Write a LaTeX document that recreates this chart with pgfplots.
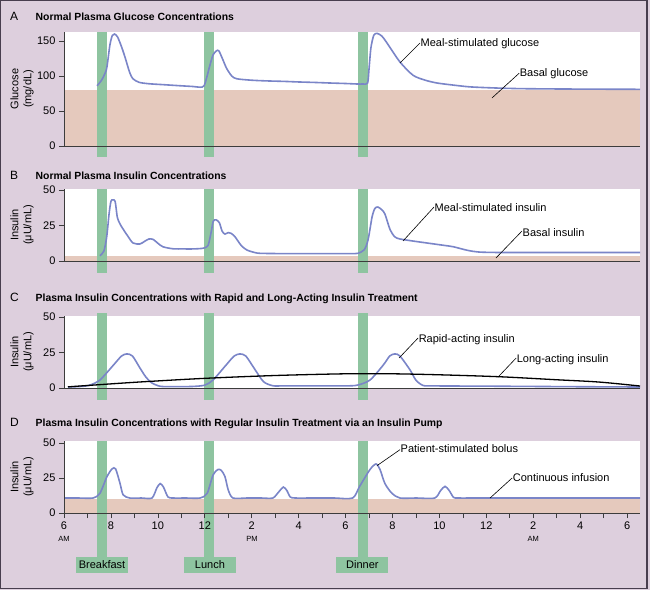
\documentclass[border=0pt]{standalone}
\usepackage{pgfplots}
\pgfplotsset{compat=1.18}
\usepackage{fontspec}
\setmainfont{Liberation Sans}

\definecolor{lilac}{RGB}{221,207,221}
\definecolor{peach}{RGB}{229,201,189}
\definecolor{mealgreen}{RGB}{142,196,160}
\definecolor{curveblue}{RGB}{122,133,200}
\definecolor{axgray}{RGB}{60,60,60}
\definecolor{framegray}{RGB}{72,62,78}

\newcommand{\ttl}{\fontsize{10.4}{12}\selectfont\bfseries}
\newcommand{\lbl}{\fontsize{11}{13}\selectfont}

\tikzset{
  leader/.style={black, line width=0.6pt},
  note/.style={anchor=west, inner sep=0.5pt, font=\lbl},
  mealbox/.style={fill=mealgreen, minimum width=52pt, minimum height=16pt, inner sep=0, font=\lbl},
}

\pgfplotsset{
  panel/.style={
    scale only axis, width=576pt, height=72pt,
    anchor=south west,
    xmin=0, xmax=24.55, ymin=0,
    axis x line=bottom, axis y line=left,
    axis line style={-, draw=axgray, line width=0.8pt},
    axis on top, clip=false,
    axis background/.style={fill=white},
    xtick=\empty,
    tick align=outside, major tick length=5pt, minor tick length=5pt,
    tick style={draw=axgray, line width=0.7pt},
    ticklabel style={font=\lbl},
    /pgf/number format/assume math mode=true,
    ylabel style={at={(axis description cs:-0.073,0.5)}, anchor=center,
      align=center, font=\fontsize{11}{13}\selectfont},
  },
  meal/.style={fill=mealgreen, draw=none},
  band/.style={fill=peach, draw=none},
  curve/.style={curveblue, line width=1.6pt, smooth, tension=0.45},
}

\begin{document}
\begin{tikzpicture}
\useasboundingbox (0pt,0pt) rectangle (650pt,590pt);
\fill[lilac] (0pt,0pt) rectangle (650pt,590pt);
\draw[framegray, line width=1.2pt] (0.6pt,1.6pt) rectangle (647pt,589.4pt);

% panel titles
\node[anchor=base west, inner sep=0, font=\fontsize{12}{14}\selectfont] at (10pt,569.3pt) {A};
\node[anchor=base west, inner sep=0, font=\ttl] at (35.5pt,569.3pt) {Normal Plasma Glucose Concentrations};
\node[anchor=base west, inner sep=0, font=\fontsize{12}{14}\selectfont] at (10pt,410pt) {B};
\node[anchor=base west, inner sep=0, font=\ttl] at (35.5pt,410pt) {Normal Plasma Insulin Concentrations};
\node[anchor=base west, inner sep=0, font=\fontsize{12}{14}\selectfont] at (10pt,288.5pt) {C};
\node[anchor=base west, inner sep=0, font=\ttl] at (35.5pt,288.5pt) {Plasma Insulin Concentrations with Rapid and Long-Acting Insulin Treatment};
\node[anchor=base west, inner sep=0, font=\fontsize{12}{14}\selectfont] at (10pt,164pt) {D};
\node[anchor=base west, inner sep=0, font=\ttl] at (35.5pt,164pt) {Plasma Insulin Concentrations with Regular Insulin Treatment via an Insulin Pump};

% ---------- A: glucose
\begin{axis}[panel, at={(64pt,444pt)}, height=114pt, ymax=162.9,
  ytick={0,50,100,150}, ylabel={Glucose\\(mg/dL)}]
\addplot[band] coordinates {(0.03,0) (24.55,0) (24.55,80) (0.03,80)} --cycle;
\addplot[meal] coordinates {(1.41,-15.7) (1.83,-15.7) (1.83,162.9) (1.41,162.9)} --cycle;
\addplot[meal] coordinates {(5.97,-15.7) (6.39,-15.7) (6.39,162.9) (5.97,162.9)} --cycle;
\addplot[meal] coordinates {(12.53,-15.7) (12.96,-15.7) (12.96,162.9) (12.53,162.9)} --cycle;
\addplot[curve] coordinates {
  (1.41,86) (1.6,94) (1.75,104) (1.83,113) (1.96,145) (2.06,158) (2.15,160)
  (2.28,156) (2.45,142) (2.6,127) (2.8,105) (2.94,96) (3.2,91) (3.6,89)
  (4.3,87.5) (5.0,86) (5.5,85) (5.8,84) (5.97,86) (6.1,100) (6.2,113)
  (6.35,130) (6.5,136) (6.6,136) (6.75,125) (6.93,111) (7.15,100) (7.37,96)
  (8,94) (8.65,93) (9.4,92.3) (10,91.5) (10.7,90.8) (11.34,90) (12.0,89.3)
  (12.49,88.6) (12.75,88.6) (12.94,90) (13.0,110) (13.08,140)
  (13.2,158) (13.34,161) (13.55,157) (13.77,147) (14.32,120) (14.88,101)
  (15.4,94) (15.9,90) (16.6,87) (17.3,84.5) (18.3,83) (19.4,82) (21,81.5)
  (22.8,81.2) (24.55,81)};
\draw[leader] (axis cs:15.17,147) -- (axis cs:14.32,118.6);
\node[note] at (axis cs:15.17,146) {Meal-stimulated glucose};
\draw[leader] (axis cs:19.4,104) -- (axis cs:18.24,68.6);
\node[note] at (axis cs:19.4,103) {Basal glucose};
\end{axis}

% ---------- B: normal insulin
\begin{axis}[panel, at={(64pt,329pt)}, ymax=50.7,
  ytick={0,25,50}, ylabel={Insulin\\(μU/mL)}]
\addplot[band] coordinates {(0.03,0) (24.55,0) (24.55,3.5) (0.03,3.5)} --cycle;
\addplot[meal] coordinates {(1.41,-8.5) (1.83,-8.5) (1.83,50.7) (1.41,50.7)} --cycle;
\addplot[meal] coordinates {(5.97,-8.5) (6.39,-8.5) (6.39,50.7) (5.97,50.7)} --cycle;
\addplot[meal] coordinates {(12.53,-8.5) (12.96,-8.5) (12.96,50.7) (12.53,50.7)} --cycle;
\addplot[curve] coordinates {
  (1.53,3.7) (1.7,7) (1.82,17) (1.92,33) (2.0,42) (2.08,43) (2.18,42)
  (2.27,31) (2.36,27) (2.46,24) (2.7,18) (2.94,12.7) (3.24,12) (3.45,14)
  (3.62,15.5) (3.8,15.2) (4.0,12.5) (4.22,10) (4.65,8.6) (5.1,8.5) (5.5,8.5)
  (5.93,9) (6.14,11) (6.28,21) (6.36,28) (6.48,29) (6.62,27) (6.74,21)
  (6.86,19) (7.0,20) (7.12,19.5) (7.29,17) (7.55,11) (7.8,7.7) (8.23,5.6)
  (8.7,5.3) (9.5,5.2) (10.5,5.2) (11.5,5.2) (12.2,5.2) (12.53,5.4) (12.8,8)
  (12.96,15) (13.13,31) (13.25,37) (13.38,38)
  (13.55,36) (13.68,33) (13.9,22) (14.1,17) (14.32,15.5) (14.9,14) (15.46,12.7)
  (16.2,11) (16.6,10) (17.2,7.5) (17.7,6.3) (18.5,6) (19.8,6) (21.5,6)
  (23,6) (24.55,6)};
\draw[leader] (axis cs:15.77,38) -- (axis cs:14.45,14.1);
\node[note] at (axis cs:15.77,37.3) {Meal-stimulated insulin};
\draw[leader] (axis cs:19.52,21.1) -- (axis cs:18.41,2.1);
\node[note] at (axis cs:19.52,19.9) {Basal insulin};
\end{axis}

% ---------- C: rapid and long-acting
\begin{axis}[panel, at={(64pt,202pt)}, ymax=50.7,
  ytick={0,25,50}, ylabel={Insulin\\(μU/mL)}]
\addplot[meal] coordinates {(1.41,-8.5) (1.83,-8.5) (1.83,52.8) (1.41,52.8)} --cycle;
\addplot[meal] coordinates {(5.97,-8.5) (6.39,-8.5) (6.39,52.8) (5.97,52.8)} --cycle;
\addplot[meal] coordinates {(12.53,-8.5) (12.96,-8.5) (12.96,52.8) (12.53,52.8)} --cycle;
\addplot[curve] coordinates {
  (0.17,0.7) (0.5,0.9) (0.8,1.2) (1.1,2) (1.53,5.6) (2.1,16) (2.45,22.5)
  (2.68,24) (2.92,22.5) (3.24,14) (3.5,7.5) (3.75,3.5) (4.1,1.2) (4.5,1)
  (5.0,1) (5.5,1.1) (6.0,2) (6.35,5.6) (6.9,16) (7.25,22.5) (7.5,24)
  (7.75,22.5) (8.1,14) (8.5,4.5) (8.9,1.6) (9.3,1.5) (10,1.5) (11,1.5)
  (12,1.5) (12.5,2) (13.04,5.6) (13.6,16) (13.88,22.5) (14.1,24)
  (14.32,22.5) (14.75,12.7) (15.0,5.5) (15.3,1.8) (15.7,1.5) (16.5,1.4)
  (18,1.3) (20,1.1) (22,0.9) (24.55,0.7)};
\addplot[black, line width=1.3pt, smooth] coordinates {
  (0.17,0.8) (3,4) (6,6.8) (9,8.8) (12,10) (14,10) (16,9.3) (18.6,7.9)
  (21,5.8) (22.8,4.2) (24.55,1.4)};
\draw[leader] (axis cs:15.09,35.2) -- (axis cs:14.28,21.1);
\node[note] at (axis cs:15.09,34.2) {Rapid-acting insulin};
\draw[leader] (axis cs:19.27,21.1) -- (axis cs:18.5,7.7);
\node[note] at (axis cs:19.27,20.1) {Long-acting insulin};
\end{axis}

% ---------- D: insulin pump
\begin{axis}[panel, at={(64pt,77pt)}, ymax=51.4,
  ytick={0,25,50}, ylabel={Insulin\\(μU/mL)},
  xtick={0,2,...,24}, minor xtick={1,3,...,23},
  xticklabels={6,8,10,12,2,4,6,8,10,12,2,4,6}]
\addplot[band] coordinates {(0.03,0) (24.55,0) (24.55,10) (0.03,10)} --cycle;
\addplot[meal] coordinates {(1.41,-31.4) (1.83,-31.4) (1.83,51.4) (1.41,51.4)} --cycle;
\addplot[meal] coordinates {(5.97,-31.4) (6.39,-31.4) (6.39,51.4) (5.97,51.4)} --cycle;
\addplot[meal] coordinates {(12.53,-31.4) (12.96,-31.4) (12.96,51.4) (12.53,51.4)} --cycle;
\addplot[curve] coordinates {
  (0,10.7) (0.6,10.7) (1.24,10.7) (1.53,14) (1.83,26) (2.05,31.5) (2.2,31.5)
  (2.39,21) (2.52,13) (2.8,10.7) (3.3,10.7) (3.75,10.7) (3.96,18) (4.1,21)
  (4.24,18.5) (4.43,11.5) (4.65,10.7) (5.2,10.7) (5.8,10.7) (6.1,14) (6.35,27)
  (6.55,31) (6.7,30.5) (6.86,26) (7.0,16.5) (7.2,10.7) (7.8,10.7) (8.4,10.7)
  (8.9,10.7) (9.15,15) (9.35,18.5) (9.5,16) (9.64,11.5) (9.85,10.7)
  (10.6,10.7) (11.5,10.7) (12.3,10.7) (12.6,19) (13.04,31) (13.3,35) (13.47,31)
  (13.68,21) (13.98,14) (14.32,10.7) (15.0,10.7) (15.8,10.7) (16.05,16)
  (16.24,19) (16.42,16) (16.6,11.2) (16.8,10.7) (17.6,10.7) (19,10.7)
  (21,10.7) (23,10.7) (24.55,10.7)};
\draw[leader] (axis cs:14.32,45.2) -- (axis cs:13.34,33.8);
\node[note] at (axis cs:14.32,46.3) {Patient-stimulated bolus};
\draw[leader] (axis cs:19.1,25) -- (axis cs:18.16,10.7);
\node[note] at (axis cs:19.1,25) {Continuous infusion};
\node[font=\fontsize{7.5}{9}\selectfont] at (axis cs:0,-18.6) {AM};
\node[font=\fontsize{7.5}{9}\selectfont] at (axis cs:8.01,-18.6) {PM};
\node[font=\fontsize{7.5}{9}\selectfont] at (axis cs:20,-18.6) {AM};
\node[mealbox] at (axis cs:1.62,-37.1) {Breakfast};
\node[mealbox] at (axis cs:6.22,-37.1) {Lunch};
\node[mealbox] at (axis cs:12.72,-37.1) {Dinner};
\end{axis}
\end{tikzpicture}
\end{document}
